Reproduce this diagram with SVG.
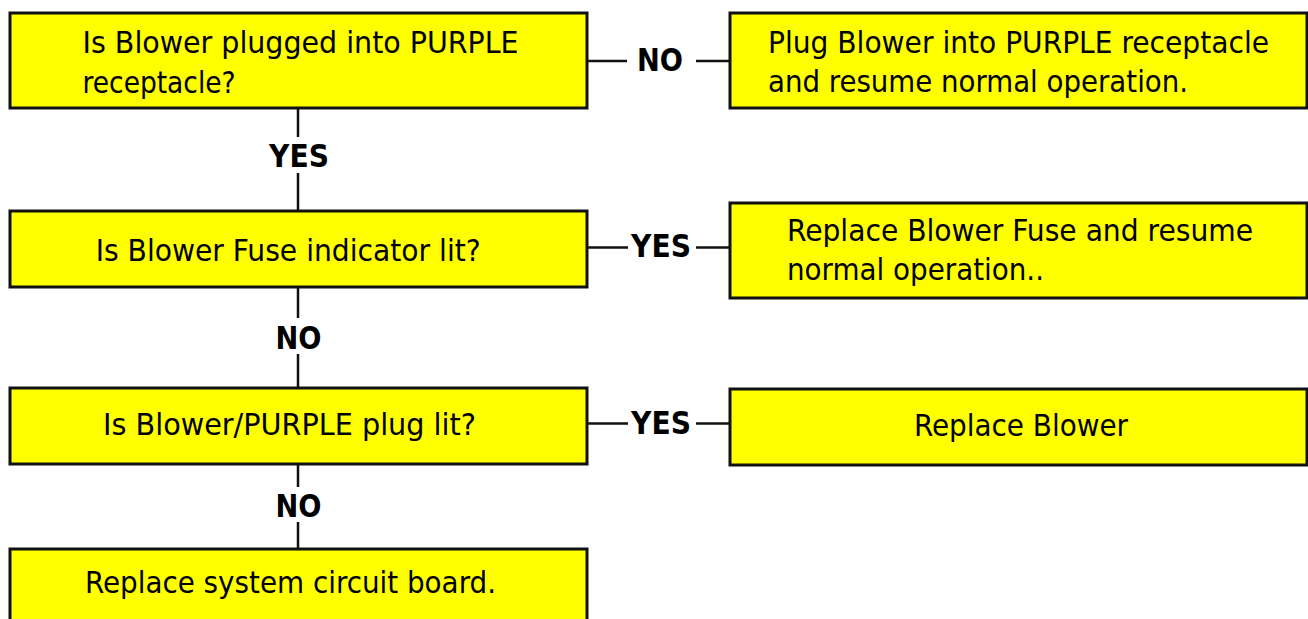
<svg xmlns="http://www.w3.org/2000/svg" width="1308" height="619" viewBox="0 0 1308 619">
<style>
.box{fill:#FFFF00;stroke:#111;stroke-width:3}
.t{font-family:"DejaVu Sans Condensed","DejaVu Sans",sans-serif;font-size:31px;fill:#000}
.lb{font-family:"DejaVu Sans Condensed","DejaVu Sans",sans-serif;font-size:32.5px;font-weight:bold;fill:#000}
.c{stroke:#111;stroke-width:2.5;fill:none}
</style>
<rect width="1308" height="619" fill="#fff"/>
<g id="connectors">
<path class="c" d="M587 61H627M696 61H730"/>
<path class="c" d="M298 108V137M298 173V211"/>
<path class="c" d="M587 247.5H628M696 247.5H730"/>
<path class="c" d="M298 287V318M298 354V388"/>
<path class="c" d="M587 423.5H628M696 423.5H730"/>
<path class="c" d="M298 464V487M298 522V549"/>
<text class="lb" x="637" y="71" textLength="46" lengthAdjust="spacingAndGlyphs">NO</text>
<text class="lb" x="269" y="167" textLength="60" lengthAdjust="spacingAndGlyphs">YES</text>
<text class="lb" x="631" y="257" textLength="60" lengthAdjust="spacingAndGlyphs">YES</text>
<text class="lb" x="275.5" y="348.5" textLength="46" lengthAdjust="spacingAndGlyphs">NO</text>
<text class="lb" x="631" y="433.5" textLength="60" lengthAdjust="spacingAndGlyphs">YES</text>
<text class="lb" x="275.5" y="516.5" textLength="46" lengthAdjust="spacingAndGlyphs">NO</text>
</g>
<g id="q1">
<rect class="box" x="10" y="13" width="577" height="95"/>
<text class="t" x="82.6" y="53" textLength="436" lengthAdjust="spacingAndGlyphs">Is Blower plugged into PURPLE</text>
<text class="t" x="82.6" y="93" textLength="153" lengthAdjust="spacingAndGlyphs">receptacle?</text>
</g>
<g id="a1">
<rect class="box" x="730" y="13" width="577" height="95"/>
<text class="t" x="768" y="53" textLength="501" lengthAdjust="spacingAndGlyphs">Plug Blower into PURPLE receptacle</text>
<text class="t" x="768" y="92" textLength="420" lengthAdjust="spacingAndGlyphs">and resume normal operation.</text>
</g>
<g id="q2">
<rect class="box" x="10" y="211" width="577" height="76"/>
<text class="t" x="95.7" y="261" textLength="385" lengthAdjust="spacingAndGlyphs">Is Blower Fuse indicator lit?</text>
</g>
<g id="a2">
<rect class="box" x="730" y="203" width="577" height="95"/>
<text class="t" x="787" y="241" textLength="466" lengthAdjust="spacingAndGlyphs">Replace Blower Fuse and resume</text>
<text class="t" x="787" y="279.5" textLength="257" lengthAdjust="spacingAndGlyphs">normal operation..</text>
</g>
<g id="q3">
<rect class="box" x="10" y="388" width="577" height="76"/>
<text class="t" x="103" y="435" textLength="373" lengthAdjust="spacingAndGlyphs">Is Blower/PURPLE plug lit?</text>
</g>
<g id="a3">
<rect class="box" x="730" y="389" width="577" height="76"/>
<text class="t" x="914" y="436" textLength="214" lengthAdjust="spacingAndGlyphs">Replace Blower</text>
</g>
<g id="a4">
<rect class="box" x="10" y="549" width="577" height="85"/>
<text class="t" x="85" y="593" textLength="411" lengthAdjust="spacingAndGlyphs">Replace system circuit board.</text>
</g>
</svg>
